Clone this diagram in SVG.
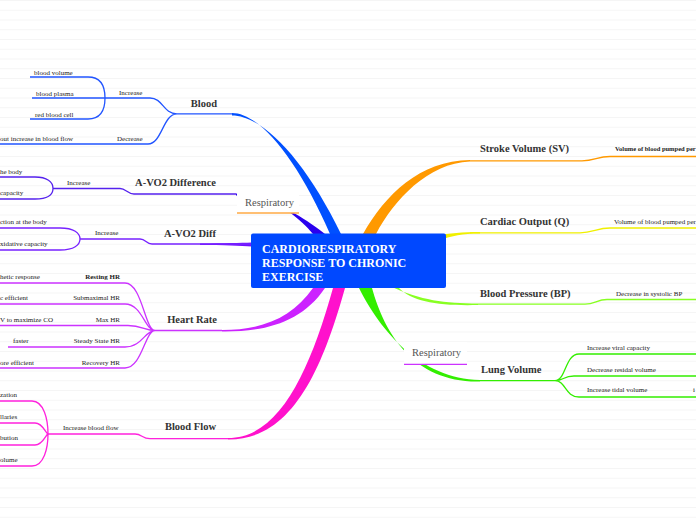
<svg xmlns="http://www.w3.org/2000/svg" width="696" height="520" viewBox="0 0 696 520">
<defs>
<pattern id="rule" x="0" y="0" width="696" height="9.75" patternUnits="userSpaceOnUse">
<line x1="0" y1="0.5" x2="696" y2="0.5" stroke="#f5f5f5" stroke-width="1"/>
</pattern>
<style>
.t{font-family:"Liberation Serif",serif;fill:#222;}
.s{font-size:7px;}
.sb{font-size:7px;font-weight:bold;}
.m{font-size:10.5px;font-weight:bold;fill:#333;}
.r{font-size:10.5px;fill:#555;}
.c{font-size:12px;font-weight:bold;fill:#fff;}
.ln{fill:none;stroke-width:1.3;}
</style>
</defs>
<rect width="696" height="520" fill="#fff"/>
<rect width="696" height="520" fill="url(#rule)"/>

<g id="connectors">
<path d="M232,113 C260,113 298,160 330,234 L341,234 C305,160 263,115.5 232,115.5 Z" fill="#0050ff"/>
<path d="M236,193.5 C272,196 298,216 313,234 L325,234 C306,219 274,197 236,195.5 Z" fill="#2a00ee"/>
<path d="M200,243.5 C225,243.3 240,243 252,242.5 L252,246.5 C240,245.8 225,245 200,245 Z" fill="#7010ff"/>
<path d="M313,288 C292,318 262,330 222,330 L222,331.5 C266,332 302,322 325,288 Z" fill="#cc22ff"/>
<path d="M333,288 C310,370 280,438 228,438 L228,439.5 C292,440 322,370 345,288 Z" fill="#ff11cc"/>
<path d="M359,288 C380,330 420,379 480,380 L480,381.5 C415,383 385,335 372,288 Z" fill="#33ee00"/>
<path d="M392,287 C420,300 445,303.5 478,303.5 L478,305 C440,306 412,302 399,288 Z" fill="#88ff22"/>
<path d="M363,234 C385,195 420,160.5 470,160 L470,161.5 C428,163 394,200 376,234 Z" fill="#ff9900"/>
<path d="M435,236 C450,233 462,232 480,232 L480,233.5 C462,233.5 452,236 440,240 Z" fill="#f0f000"/>

<path class="ln" stroke="#ff9900" d="M470,160.8 L582,160.8 C595,160.8 597,156.5 610,156.5 L696,156.5"/>
<path class="ln" stroke="#f0f000" d="M470,232.8 L580,232.8 C593,232.8 597,228 610,228 L696,228"/>
<path class="ln" stroke="#88ff22" d="M478,304.2 L585,304.2 C595,304.2 597,299.5 607,299.5 L696,299.5"/>
<path class="ln" stroke="#33ee00" d="M480,380.7 L555,380.7 M555,380.7 C566,380.7 565,354 579,354 L696,354 M555,380.7 C564,380.7 563,376 574,376 L696,376 M555,380.7 C566,380.7 565,397 579,397 L696,397"/>

<path class="ln" stroke="#2255ff" d="M177,113.8 L232,113.8 M105,98 L150,98 C163,98 163,113.8 177,113.8 M0,144 L148,144 C162,144 163,113.8 177,113.8 M30,77 L88,77 C100,77 105,85 105,98 C105,111 100,119 88,119 L30,119 M32,98 L105,98"/>
<path class="ln" stroke="#5522ee" d="M53,188.5 L120,188.5 C126,188.5 127,194 134,194 L236,194 M0,177 L35,177 C47,177 53,182 53,188.5 C53,195 47,199 35,199 L0,199"/>
<path class="ln" stroke="#7722ff" d="M80,239 L140,239 C146,239 146,244 152,244 L252,244 M0,228 L60,228 C74,228 80,233 80,239 C80,245 74,250 60,250 L0,250"/>
<path class="ln" stroke="#cc33ff" d="M155,330.5 L222,330.5 M0,283 L125,283 C142,283 145,330.5 155,330.5 M0,304 L125,304 C142,304 145,330.5 155,330.5 M0,325.5 L128,325.5 C142,325.5 145,330.5 155,330.5 M8,347 L125,347 C142,347 145,330.5 155,330.5 M0,368 L125,368 C142,368 145,330.5 155,330.5"/>
<path class="ln" stroke="#ff22dd" d="M48,434 L135,434 C142,434 142,438.7 150,438.7 L228,438.7 M0,401 L32,401 C44,401 48,420 48,434 M0,423 L35,423 C43,423 46,434 48,434 M0,445 L35,445 C43,445 46,434 48,434 M0,466 L32,466 C44,466 48,448 48,434"/>
</g>

<g id="center">
<rect x="251" y="233.5" width="195" height="54.5" rx="2" fill="#0048ff"/>
<text class="t c" x="262" y="252.5">CARDIORESPIRATORY</text>
<text class="t c" x="262" y="266.5">RESPONSE TO CHRONIC</text>
<text class="t c" x="262" y="280.5">EXERCISE</text>
</g>

<g id="respiratory-top">
<rect x="237" y="193" width="62" height="20" fill="#fff"/>
<text class="t r" x="245" y="205.5">Respiratory</text>
<line x1="237" y1="213" x2="299" y2="213" stroke="#ffaa44" stroke-width="1.3"/>
</g>
<g id="respiratory-bottom">
<rect x="404" y="342" width="63" height="22" fill="#fff"/>
<text class="t r" x="412" y="356">Respiratory</text>
<line x1="404" y1="364.3" x2="467" y2="364.3" stroke="#cc33ff" stroke-width="1.3"/>
</g>

<g id="blood">
<text class="t m" x="217" y="106.5" text-anchor="end">Blood</text>
<text class="t s" x="119" y="95">Increase</text>
<text class="t s" x="117" y="141">Decrease</text>
<text class="t s" x="0" y="141">out increase in blood flow</text>
<text class="t s" x="34" y="74.5">blood volume</text>
<text class="t s" x="36" y="95.5">blood plasma</text>
<text class="t s" x="35" y="117">red blood cell</text>
</g>

<g id="avo2-difference">
<text class="t m" x="216" y="186" text-anchor="end">A-VO2 Difference</text>
<text class="t s" x="67" y="184.5">Increase</text>
<text class="t s" x="0" y="174">he body</text>
<text class="t s" x="0" y="195">capacity</text>
</g>

<g id="avo2-diff">
<text class="t m" x="216" y="237" text-anchor="end">A-VO2 Diff</text>
<text class="t s" x="95" y="234.5">Increase</text>
<text class="t s" x="0" y="223.5">ction at the body</text>
<text class="t s" x="0" y="245.5">xidative capacity</text>
</g>

<g id="heart-rate">
<text class="t m" x="217" y="323" text-anchor="end">Heart Rate</text>
<text class="t sb" x="120" y="278.5" text-anchor="end">Resting HR</text>
<text class="t s" x="120" y="299.5" text-anchor="end">Submaximal HR</text>
<text class="t s" x="120" y="321.5" text-anchor="end">Max HR</text>
<text class="t s" x="120" y="342.5" text-anchor="end">Steady State HR</text>
<text class="t s" x="120" y="364.5" text-anchor="end">Recovery HR</text>
<text class="t s" x="0" y="278.5">hetic response</text>
<text class="t s" x="0" y="299.5">c efficient</text>
<text class="t s" x="0" y="321.5">V to maximize CO</text>
<text class="t s" x="13" y="342.5">faster</text>
<text class="t s" x="0" y="364.5">ore efficient</text>
</g>

<g id="blood-flow">
<text class="t m" x="216" y="430" text-anchor="end">Blood Flow</text>
<text class="t s" x="63" y="429.5">Increase blood flow</text>
<text class="t s" x="0" y="396.5">zation</text>
<text class="t s" x="0" y="418.5">llaries</text>
<text class="t s" x="0" y="439.5">bution</text>
<text class="t s" x="0" y="461.5">olume</text>
</g>

<g id="stroke-volume">
<text class="t m" x="480" y="152">Stroke Volume (SV)</text>
<text class="t sb" x="615" y="150.5" style="font-size:6.5px">Volume of blood pumped per</text>
</g>
<g id="cardiac-output">
<text class="t m" x="480" y="225">Cardiac Output (Q)</text>
<text class="t s" x="614" y="223.5">Volume of blood pumped per</text>
</g>
<g id="blood-pressure">
<text class="t m" x="480" y="297">Blood Pressure (BP)</text>
<text class="t s" x="616" y="295.5">Decrease in systolic BP</text>
</g>
<g id="lung-volume">
<text class="t m" x="481" y="373">Lung Volume</text>
<text class="t s" x="587" y="349.5">Increase viral capacity</text>
<text class="t s" x="587" y="371.5">Decrease residal volume</text>
<text class="t s" x="587" y="391.5">Increase tidal volume</text>
<text class="t s" x="693" y="391.5">i</text>
</g>
</svg>
